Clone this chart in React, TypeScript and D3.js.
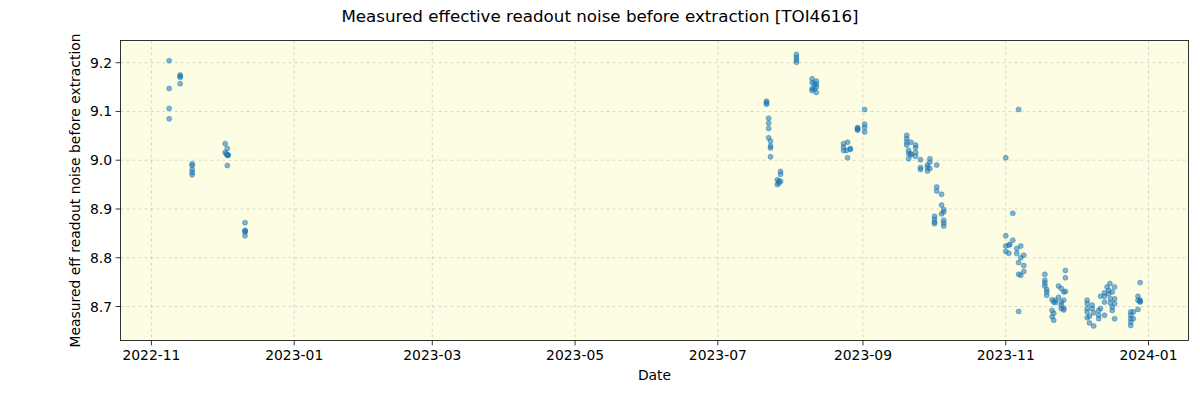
import React from "react";
import * as d3 from "d3";

const dates: string[] = [
  // Nov-Dec 2022
  "2022-11-08T14:00", "2022-11-08T14:00", "2022-11-08T14:00", "2022-11-08T14:00",
  "2022-11-13T07:00", "2022-11-13T07:00", "2022-11-13T07:00", "2022-11-13T07:00",
  "2022-11-18T10:00", "2022-11-18T10:00", "2022-11-18T10:00", "2022-11-18T10:00", "2022-11-18T10:00",
  "2022-12-02T12:00", "2022-12-02T12:00", "2022-12-03T00:00",
  "2022-12-03T10:00", "2022-12-03T10:00", "2022-12-03T10:00", "2022-12-03T18:00", "2022-12-03T18:00",
  "2022-12-11T00:00", "2022-12-11T00:00", "2022-12-11T00:00", "2022-12-11T00:00", "2022-12-11T02:00",
  // Jul-Sep 2023
  "2023-07-21T19:00", "2023-07-21T19:00", "2023-07-21T19:00",
  "2023-07-22T17:00", "2023-07-22T17:00", "2023-07-22T17:00", "2023-07-22T17:00",
  "2023-07-23T12:00", "2023-07-23T12:00", "2023-07-23T12:00", "2023-07-23T12:00",
  "2023-07-26T10:00", "2023-07-26T10:00", "2023-07-27T02:00", "2023-07-27T02:00",
  "2023-07-27T19:00", "2023-07-27T19:00", "2023-07-27T19:00",
  "2023-08-03T14:00", "2023-08-03T14:00", "2023-08-03T14:00", "2023-08-03T14:00",
  "2023-08-10T07:00", "2023-08-10T07:00", "2023-08-10T07:00", "2023-08-10T07:00",
  "2023-08-11T05:00", "2023-08-11T05:00",
  "2023-08-12T02:00", "2023-08-12T02:00", "2023-08-12T02:00", "2023-08-12T02:00",
  "2023-08-23T17:00", "2023-08-23T17:00", "2023-08-23T17:00", "2023-08-24T22:00",
  "2023-08-25T10:00", "2023-08-25T10:00", "2023-08-26T14:00", "2023-08-26T14:00",
  "2023-08-29T17:00", "2023-08-29T17:00", "2023-08-29T17:00", "2023-08-29T17:00",
  "2023-09-01T17:00", "2023-09-01T17:00", "2023-09-01T17:00", "2023-09-01T17:00",
  // Sep-Oct 2023
  "2023-09-19T17:00", "2023-09-19T17:00", "2023-09-19T17:00", "2023-09-19T17:00",
  "2023-09-20T12:00", "2023-09-20T12:00", "2023-09-20T12:00",
  "2023-09-21T12:00", "2023-09-21T12:00", "2023-09-21T12:00",
  "2023-09-23T12:00", "2023-09-23T12:00", "2023-09-23T12:00", "2023-09-23T12:00",
  "2023-09-25T14:00", "2023-09-25T14:00", "2023-09-25T14:00",
  "2023-09-28T14:00", "2023-09-28T14:00", "2023-09-28T14:00",
  "2023-09-29T14:00", "2023-09-29T14:00", "2023-09-29T14:00",
  "2023-10-01T14:00", "2023-10-01T14:00", "2023-10-01T14:00", "2023-10-01T14:00",
  "2023-10-02T12:00", "2023-10-02T12:00", "2023-10-02T12:00",
  "2023-10-04T14:00", "2023-10-04T14:00", "2023-10-04T14:00",
  "2023-10-05T12:00", "2023-10-05T12:00", "2023-10-05T12:00", "2023-10-05T12:00", "2023-10-05T12:00",
  // Nov 2023
  "2023-11-01T00:00", "2023-11-01T00:00", "2023-11-01T00:00", "2023-11-01T00:00",
  "2023-11-02T07:00", "2023-11-02T07:00", "2023-11-02T17:00",
  "2023-11-04T00:00", "2023-11-04T00:00",
  "2023-11-05T17:00", "2023-11-05T17:00",
  "2023-11-06T12:00", "2023-11-06T12:00", "2023-11-06T12:00", "2023-11-06T12:00",
  "2023-11-07T10:00", "2023-11-07T10:00", "2023-11-07T10:00",
  "2023-11-08T17:00", "2023-11-08T17:00", "2023-11-08T17:00",
  "2023-11-17T17:00", "2023-11-17T17:00", "2023-11-17T17:00", "2023-11-17T17:00",
  "2023-11-18T12:00", "2023-11-18T12:00", "2023-11-18T12:00",
  "2023-11-20T19:00", "2023-11-20T19:00", "2023-11-20T19:00",
  "2023-11-21T12:00", "2023-11-21T12:00", "2023-11-21T12:00",
  "2023-11-22T05:00", "2023-11-22T05:00",
  "2023-11-23T14:00", "2023-11-23T14:00",
  "2023-11-24T17:00", "2023-11-24T17:00", "2023-11-24T17:00", "2023-11-24T17:00",
  "2023-11-25T19:00", "2023-11-25T19:00", "2023-11-25T19:00", "2023-11-25T19:00",
  "2023-11-26T12:00", "2023-11-26T12:00", "2023-11-26T12:00",
  // Dec 2023
  "2023-12-05T19:00", "2023-12-05T19:00", "2023-12-05T19:00", "2023-12-05T19:00", "2023-12-05T19:00",
  "2023-12-06T19:00", "2023-12-06T19:00",
  "2023-12-07T22:00", "2023-12-07T22:00",
  "2023-12-08T14:00", "2023-12-08T14:00",
  "2023-12-10T17:00", "2023-12-10T17:00", "2023-12-10T17:00",
  "2023-12-11T12:00", "2023-12-11T12:00",
  "2023-12-13T05:00", "2023-12-13T05:00", "2023-12-13T05:00", "2023-12-13T05:00",
  "2023-12-14T07:00",
  "2023-12-15T00:00", "2023-12-15T00:00", "2023-12-15T12:00",
  "2023-12-15T17:00", "2023-12-15T17:00",
  "2023-12-16T12:00", "2023-12-16T12:00", "2023-12-16T12:00",
  "2023-12-17T12:00", "2023-12-17T12:00", "2023-12-17T12:00", "2023-12-17T12:00",
  "2023-12-24T10:00", "2023-12-24T10:00", "2023-12-24T10:00", "2023-12-24T10:00", "2023-12-24T10:00",
  "2023-12-25T12:00", "2023-12-25T12:00",
  "2023-12-27T12:00", "2023-12-27T12:00", "2023-12-27T12:00",
  "2023-12-28T10:00", "2023-12-28T10:00", "2023-12-28T10:00", "2023-12-28T10:00",
];

const values: number[] = [
  9.204, 9.147, 9.106, 9.085,
  9.175, 9.172, 9.170, 9.157,
  8.993, 8.989, 8.981, 8.975, 8.970,
  9.034, 9.016, 9.013,
  9.024, 9.010, 8.989, 9.010, 9.011,
  8.872, 8.856, 8.853, 8.845, 8.855,
  9.121, 9.118, 9.115,
  9.086, 9.076, 9.065, 9.046,
  9.039, 9.029, 9.025, 9.007,
  8.960, 8.950, 8.957, 8.953,
  8.977, 8.971, 8.957,
  9.217, 9.211, 9.206, 9.201,
  9.167, 9.159, 9.147, 9.143,
  9.157, 9.146,
  9.162, 9.156, 9.150, 9.139,
  9.034, 9.027, 9.020, 9.020,
  9.037, 9.005, 9.024, 9.022,
  9.067, 9.063, 9.065, 9.062,
  9.104, 9.074, 9.067, 9.058,
  9.051, 9.044, 9.037, 9.031,
  9.020, 9.014, 9.003,
  9.037, 9.013, 9.011,
  9.031, 9.026, 9.016, 9.008,
  9.001, 8.985, 8.981,
  8.990, 8.985, 8.978,
  9.003, 8.996, 8.983,
  8.885, 8.879, 8.873, 8.870,
  8.990, 8.945, 8.937,
  8.930, 8.908, 8.890,
  8.899, 8.894, 8.877, 8.871, 8.865,
  9.005, 8.845, 8.824, 8.813,
  8.826, 8.809, 8.827,
  8.836, 8.891,
  8.819, 8.809,
  9.104, 8.790, 8.766, 8.690,
  8.824, 8.800, 8.764,
  8.805, 8.784, 8.772,
  8.766, 8.754, 8.748, 8.742,
  8.735, 8.730, 8.723,
  8.714, 8.692, 8.679,
  8.709, 8.686, 8.672,
  8.713, 8.708,
  8.742, 8.719,
  8.737, 8.709, 8.703, 8.696,
  8.730, 8.713, 8.697, 8.693,
  8.774, 8.759, 8.731,
  8.713, 8.706, 8.696, 8.689, 8.677,
  8.680, 8.666,
  8.703, 8.696,
  8.687, 8.660,
  8.692, 8.682, 8.675,
  8.721, 8.696,
  8.728, 8.721, 8.709, 8.682,
  8.740,
  8.733, 8.726, 8.747,
  8.716, 8.707,
  8.730, 8.699, 8.692,
  8.740, 8.716, 8.706, 8.675,
  8.689, 8.682, 8.675, 8.668, 8.661,
  8.689, 8.675,
  8.694, 8.721, 8.713,
  8.749, 8.713, 8.709, 8.711,
];

const xTickLabels: string[] = ["2022-11", "2023-01", "2023-03", "2023-05", "2023-07", "2023-09", "2023-11", "2024-01"];
const yTickValues: number[] = [8.7, 8.8, 8.9, 9.0, 9.1, 9.2];
const xDomain: string[] = ["2022-10-18T19:00", "2024-01-18T02:00"];
const yDomain: number[] = [8.6303, 9.2455];

const title = "Measured effective readout noise before extraction [TOI4616]";
const xLabel = "Date";
const yLabel = "Measured eff readout noise before extraction";

export default function App() {
  const W = 1200, H = 400;
  const L = 120.5, R = 1188.5, T = 40.5, B = 340.5;
  const parse = (s: string) => new Date(s + "Z");
  const x = d3.scaleUtc().domain(xDomain.map(parse)).range([L, R]);
  const y = d3.scaleLinear().domain(yDomain).range([B, T]);
  const font = "'DejaVu Sans', sans-serif";
  const xTicks = xTickLabels.map((s) => ({ label: s, v: parse(s + "-01T00:00") }));
  const fmtY = d3.format(".1f");

  return (
    <svg width={W} height={H} style={{ position: "absolute", left: 0, top: 0 }} fontFamily={font}>
      <rect x={0} y={0} width={W} height={H} fill="#ffffff" />
      <rect x={L} y={T} width={R - L} height={B - T} fill="#fdfde3" />
      {/* grid */}
      {xTicks.map((t) => (
        <line key={"gx" + t.label} x1={x(t.v)} x2={x(t.v)} y1={T} y2={B}
          stroke="#b0b0b0" strokeOpacity={0.6} strokeWidth={0.8} strokeDasharray="3,3" />
      ))}
      {yTickValues.map((v) => (
        <line key={"gy" + v} x1={L} x2={R} y1={y(v)} y2={y(v)}
          stroke="#b0b0b0" strokeOpacity={0.6} strokeWidth={0.8} strokeDasharray="3,3" />
      ))}
      {/* points */}
      {dates.map((d, i) => (
        <circle key={i} cx={x(parse(d))} cy={y(values[i])} r={2.5}
          fill="#1f77b4" fillOpacity={0.55} stroke="#1f77b4" strokeOpacity={0.55} strokeWidth={0.8} />
      ))}
      {/* frame */}
      <rect x={L} y={T} width={R - L} height={B - T} fill="none" stroke="#000" strokeWidth={0.8} />
      {/* x ticks */}
      {xTicks.map((t) => (
        <g key={"tx" + t.label} transform={`translate(${x(t.v)},${B})`}>
          <line y1={0} y2={4.9} stroke="#000" strokeWidth={0.8} />
          <text y={19.5} textAnchor="middle" fontSize={13.9} fill="#000">{t.label}</text>
        </g>
      ))}
      {yTickValues.map((v) => (
        <g key={"ty" + v} transform={`translate(${L},${y(v)})`}>
          <line x1={0} x2={-4.9} stroke="#000" strokeWidth={0.8} />
          <text x={-8.4} dy="0.36em" textAnchor="end" fontSize={13.9} fill="#000">{fmtY(v)}</text>
        </g>
      ))}
      <text x={(L + R) / 2} y={380} textAnchor="middle" fontSize={13.9} fill="#000">{xLabel}</text>
      <text transform={`translate(80,${(T + B) / 2}) rotate(-90)`} textAnchor="middle" fontSize={13.9} fill="#000">{yLabel}</text>
      <text x={600} y={22} textAnchor="middle" fontSize={16.7} fill="#000">{title}</text>
    </svg>
  );
}
